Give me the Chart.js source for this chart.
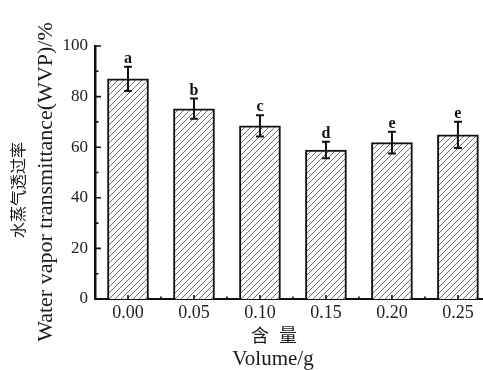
<!DOCTYPE html>
<html><head><meta charset="utf-8">
<script src="https://cdn.jsdelivr.net/npm/chart.js@4.4.0/dist/chart.umd.min.js"></script>
<style>html,body{margin:0;padding:0;background:#fff;}#wrap{width:483px;height:370px;position:relative;}</style>
</head><body><div id="wrap"><canvas id="c" width="483" height="370" style="width:483px;height:370px;"></canvas></div>
<script>
const categories = ['0.00','0.05','0.10','0.15','0.20','0.25'];
const wvpValues = [87, 75.2, 68.4, 58.9, 61.8, 64.9];
const wvpErrors = [4.8, 4.0, 4.2, 3.3, 4.3, 5.2];
const sigLetters = ['a','b','c','d','e','e'];
const yTicks = [0, 20, 40, 60, 80, 100];
const yMinorTicks = [10, 30, 50, 70, 90];
const yTitleZh = '水蒸气透过率';
const yTitleEn = 'Water vapor transmittance(WVP)/%';
const xTitleZh = '含量';
const xTitleEn = 'Volume/g';

const SERIF = '"Liberation Serif","DejaVu Serif",serif';
const CJK = '"Noto Sans CJK SC","Noto Sans CJK JP",sans-serif';

function makeHatch(ctx){
  const s = 6;
  const p = document.createElement('canvas'); p.width = s; p.height = s;
  const g = p.getContext('2d');
  g.fillStyle = '#fff'; g.fillRect(0,0,s,s);
  g.strokeStyle = '#707070'; g.lineWidth = 1;
  g.beginPath();
  g.moveTo(0,s); g.lineTo(s,0);
  g.moveTo(-1,1); g.lineTo(1,-1);
  g.moveTo(s-1,s+1); g.lineTo(s+1,s-1);
  g.stroke();
  return ctx.createPattern(p,'repeat');
}

const canvas = document.getElementById('c');
const ctx0 = canvas.getContext('2d');
const hatch = makeHatch(ctx0);

const decor = {
  id: 'decor',
  afterDatasetsDraw(chart){
    const ctx = chart.ctx, ys = chart.scales.y;
    const meta = chart.getDatasetMeta(0);
    ctx.save();
    ctx.strokeStyle = '#111'; ctx.fillStyle = '#111';
    meta.data.forEach((bar, i) => {
      const x = bar.x;
      const yt = ys.getPixelForValue(wvpValues[i] + wvpErrors[i]);
      const yb = ys.getPixelForValue(wvpValues[i] - wvpErrors[i]);
      ctx.lineWidth = 2;
      ctx.beginPath();
      ctx.moveTo(x, yt); ctx.lineTo(x, yb);
      ctx.moveTo(x-4, yt); ctx.lineTo(x+4, yt);
      ctx.moveTo(x-4, yb); ctx.lineTo(x+4, yb);
      ctx.stroke();
      ctx.font = 'bold 16px ' + SERIF;
      ctx.textAlign = 'center'; ctx.textBaseline = 'alphabetic';
      ctx.fillText(sigLetters[i], x, yt - 4);
    });
    ctx.restore();
  },
  afterDraw(chart){
    const ctx = chart.ctx, ys = chart.scales.y, xs = chart.scales.x;
    const a = chart.chartArea;
    ctx.save();
    ctx.strokeStyle = '#111'; ctx.lineWidth = 1.6;
    ctx.beginPath();
    yTicks.forEach(v => { const y = ys.getPixelForValue(v); ctx.moveTo(a.left, y); ctx.lineTo(a.left + 6, y); });
    yMinorTicks.forEach(v => { const y = ys.getPixelForValue(v); ctx.moveTo(a.left, y); ctx.lineTo(a.left + 3.5, y); });
    categories.forEach((c, i) => {
      const x = xs.getPixelForValue(i); ctx.moveTo(x, a.bottom); ctx.lineTo(x, a.bottom - 4);
      const xb = xs.getPixelForValue(i + 0.5); if (xb < a.right - 2) { ctx.moveTo(xb, a.bottom); ctx.lineTo(xb, a.bottom - 2.5); }
    });
    ctx.stroke();
    ctx.fillStyle = '#1a1a1a';
    ctx.textAlign = 'center'; ctx.textBaseline = 'middle';
    ctx.save();
    ctx.translate(18, 190); ctx.rotate(-Math.PI/2);
    ctx.font = '16px ' + CJK;
    ctx.fillText(yTitleZh, 0, 0);
    ctx.restore();
    ctx.save();
    ctx.translate(46, 182); ctx.rotate(-Math.PI/2);
    ctx.font = '22px ' + SERIF;
    ctx.fillText(yTitleEn, 0, 0);
    ctx.restore();
    ctx.font = '18px ' + CJK;
    const chars = Array.from(xTitleZh);
    chars.forEach((ch, k) => ctx.fillText(ch, 274 + (k - (chars.length - 1) / 2) * 28, 335));
    ctx.font = '21px ' + SERIF;
    ctx.fillText(xTitleEn, 273, 359);
    ctx.restore();
  }
};

new Chart(canvas, {
  type: 'bar',
  data: {
    datasets: [{
      data: categories.map((c, i) => ({ x: i, y: wvpValues[i] })),
      backgroundColor: hatch,
      borderColor: '#111',
      borderWidth: 2,
      barThickness: 41
    }]
  },
  options: {
    responsive: false,
    animation: false,
    devicePixelRatio: 1,
    layout: { padding: { top: 46, right: 0, bottom: 0, left: 0 } },
    plugins: { legend: { display: false }, tooltip: { enabled: false } },
    scales: {
      x: {
        type: 'linear', min: -0.5, max: 5.38, offset: false,
        afterBuildTicks: s => { s.ticks = categories.map((c, i) => ({ value: i })); },
        afterFit: s => { s.height = 71; },
        ticks: { callback: v => categories[v], font: { family: SERIF, size: 18 }, color: '#222', padding: 3, autoSkip: false, maxRotation: 0 },
        grid: { display: false, drawTicks: false },
        border: { display: true, color: '#111', width: 2 }
      },
      y: {
        min: 0, max: 100,
        afterBuildTicks: s => { s.ticks = yTicks.map(v => ({ value: v })); },
        afterFit: s => { s.width = 95; },
        ticks: { font: { family: SERIF, size: 17 }, color: '#222', padding: 7 },
        grid: { display: false, drawTicks: false },
        border: { display: true, color: '#111', width: 2.5 }
      }
    }
  },
  plugins: [decor]
});
</script></body></html>
